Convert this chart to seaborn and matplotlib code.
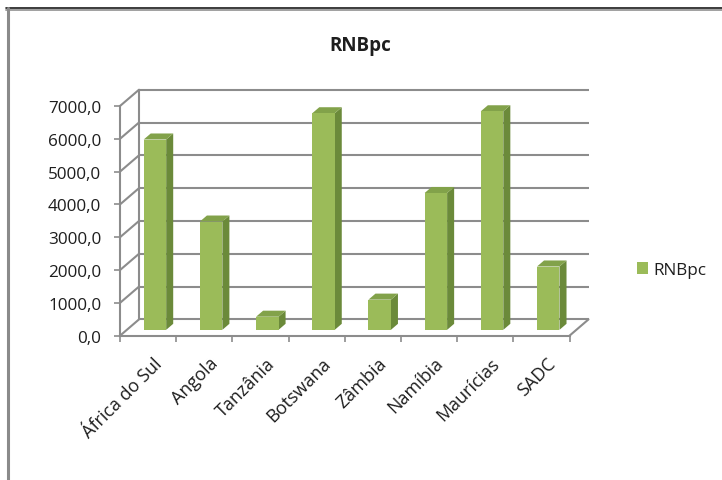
import numpy as np
import seaborn as sns
import matplotlib
matplotlib.use("Agg")
import matplotlib.pyplot as plt
from matplotlib.lines import Line2D
from matplotlib.patches import Polygon
from matplotlib.transforms import Affine2D, ScaledTranslation

countries = ["África do Sul", "Angola", "Tanzânia", "Botswana", "Zâmbia",
             "Namíbia", "Maurícias", "SADC"]
rnbpc = [5800, 3300, 400, 6600, 920, 4170, 6660, 1930]
y_ticks = [0, 1000, 2000, 3000, 4000, 5000, 6000, 7000]
series_name = "RNBpc"

front_col = "#9bbb59"
side_col = "#6b8a3a"
top_col = "#82a24a"
grid_col = "#8c8c8c"
text_col = "#1e1e1e"

sns.set_style("white")
plt.rcParams["font.family"] = ["Open Sans", "DejaVu Sans"]

fig = plt.figure(figsize=(7.22, 4.81), dpi=100)
fig.patch.set_facecolor("white")
ax = fig.add_axes([120 / 722, 1 - 336.7 / 481, 449.5 / 722, 229.7 / 481])

sns.barplot(x=countries, y=rnbpc, color=front_col, width=0.4, saturation=1,
            label=series_name, ax=ax, zorder=2)

xmin, xmax = -0.5, len(countries) - 0.5
ymin, ymax = y_ticks[0], y_ticks[-1]
ax.set_xlim(xmin, xmax)
ax.set_ylim(ymin, ymax)

# oblique depth (in data units) of the 3d box
DX = 19.0 / (449.5 / len(countries))
DY = 16.3 / (229.7 / ymax)
f1, f2 = 0.36, 0.73

# back wall gridlines + side wall diagonals
for v in y_ticks:
    ax.plot([xmin + DX, xmax + DX], [v + DY, v + DY], color=grid_col, lw=1.5,
            zorder=0.5, clip_on=False, solid_capstyle="butt")
    ax.plot([xmin, xmin + DX], [v, v + DY], color=grid_col, lw=1.5,
            zorder=0.5, clip_on=False)
ax.plot([xmin + DX, xmin + DX], [ymin + DY, ymax + DY], color=grid_col, lw=1.5,
        zorder=0.5, clip_on=False)
ax.plot([xmax, xmax + DX], [ymin, ymin + DY], color=grid_col, lw=1.5,
        zorder=0.5, clip_on=False)

# shift front faces into depth, add side and top faces
for p in list(ax.patches):
    p.set_transform(Affine2D().translate(f1 * DX, f1 * DY) + ax.transData)
    p.set_edgecolor("none")
    p.set_clip_on(False)
    xl = p.get_x()
    xr = xl + p.get_width()
    h = p.get_height()
    side = [(xr + f1 * DX, f1 * DY), (xr + f1 * DX, h + f1 * DY),
            (xr + f2 * DX, h + f2 * DY), (xr + f2 * DX, f2 * DY)]
    top = [(xl + f1 * DX, h + f1 * DY), (xr + f1 * DX, h + f1 * DY),
           (xr + f2 * DX, h + f2 * DY), (xl + f2 * DX, h + f2 * DY)]
    ax.add_patch(Polygon(side, closed=True, facecolor=side_col, edgecolor="none",
                         zorder=1.9, clip_on=False))
    ax.add_patch(Polygon(top, closed=True, facecolor=top_col, edgecolor="none",
                         zorder=1.9, clip_on=False))

for s in ["top", "right"]:
    ax.spines[s].set_visible(False)
for s in ["left", "bottom"]:
    ax.spines[s].set_color(grid_col)
    ax.spines[s].set_linewidth(1.5)

ax.set_yticks(y_ticks)
ax.set_yticklabels([f"{v:.1f}".replace(".", ",") for v in y_ticks])
ax.set_xticks(range(len(countries)))
ax.set_xticklabels(countries, rotation=45, ha="right", rotation_mode="anchor")
ax.set_xticks(np.arange(xmin, xmax + 1), minor=True)
ax.tick_params(axis="y", which="major", direction="out", length=4.5, width=1.2,
               color=grid_col, labelsize=12.3, labelcolor=text_col, pad=9, left=True)
ax.tick_params(axis="x", which="major", length=0, labelsize=13,
               labelcolor=text_col, pad=13)
ax.tick_params(axis="x", which="minor", direction="out", length=4.5, width=1.2,
               color=grid_col, bottom=True)
shift = ScaledTranslation(5 / 100, 0, fig.dpi_scale_trans)
for lab in ax.get_xticklabels():
    lab.set_transform(lab.get_transform() + shift)
ax.set_xlabel("")
ax.set_ylabel("")
ax.grid(False)
ax.patch.set_alpha(0)

if ax.get_legend() is not None:
    ax.get_legend().remove()
handles, labels = ax.get_legend_handles_labels()
fig.legend(handles, labels, loc="center left",
           bbox_to_anchor=(637 / 722, 1 - 271 / 481), frameon=False,
           fontsize=12.3, handlelength=0.65, handleheight=0.65,
           handletextpad=0.3, borderpad=0, borderaxespad=0, labelcolor=text_col)

fig.text(360 / 722, 1 - 45.5 / 481, "RNBpc", ha="center", va="center",
         fontsize=13.5, fontweight="bold", color=text_col)

# outer frame as in the screenshot
fig.add_artist(Line2D([6 / 722, 1], [1 - 8.5 / 481] * 2, color="#1a1a1a", lw=1.2,
                      transform=fig.transFigure))
fig.add_artist(Line2D([6 / 722, 1], [1 - 10.5 / 481] * 2, color="#a0a0a0", lw=1.4,
                      transform=fig.transFigure))
fig.add_artist(Line2D([7.5 / 722] * 2, [0, 1 - 8.5 / 481], color="#8a8a8a", lw=2.2,
                      transform=fig.transFigure))

fig.savefig("out.png", dpi=100, facecolor="white")
